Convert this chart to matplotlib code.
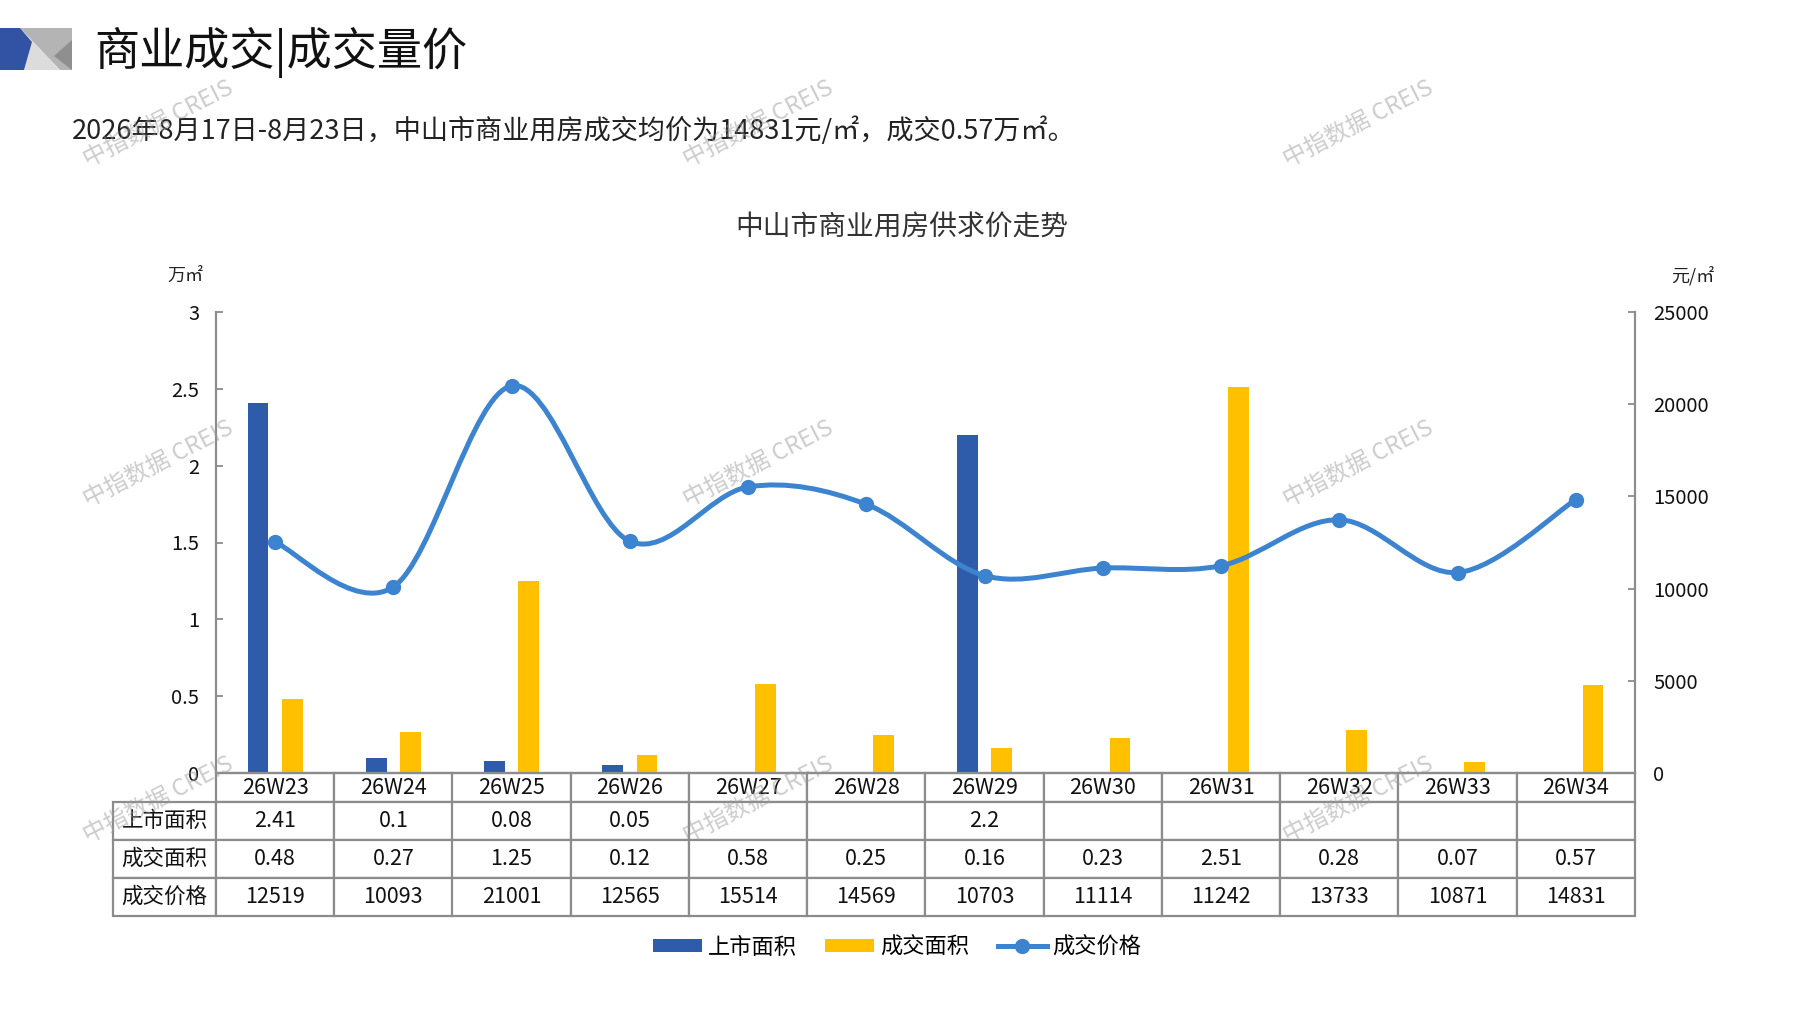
import numpy as np
import matplotlib
matplotlib.use('Agg')
import matplotlib.pyplot as plt
from matplotlib.path import Path
from matplotlib.patches import PathPatch, Polygon, Patch
from matplotlib.lines import Line2D

plt.rcParams['font.family'] = ['Noto Sans CJK SC', 'DejaVu Sans']

# ---------------- data ----------------
weeks = ['26W23', '26W24', '26W25', '26W26', '26W27', '26W28',
         '26W29', '26W30', '26W31', '26W32', '26W33', '26W34']
listed_area = [2.41, 0.1, 0.08, 0.05, None, None, 2.2, None, None, None, None, None]
sold_area = [0.48, 0.27, 1.25, 0.12, 0.58, 0.25, 0.16, 0.23, 2.51, 0.28, 0.07, 0.57]
sold_price = [12519, 10093, 21001, 12565, 15514, 14569, 10703, 11114, 11242, 13733, 10871, 14831]
series_names = ['上市面积', '成交面积', '成交价格']
y1_ticks = [0, 0.5, 1, 1.5, 2, 2.5, 3]
y1_labels = ['0', '0.5', '1', '1.5', '2', '2.5', '3']
y2_ticks = [0, 5000, 10000, 15000, 20000, 25000]
y2_labels = ['0', '5000', '10000', '15000', '20000', '25000']

title = '商业成交|成交量价'
subtitle = '2026年8月17日-8月23日，中山市商业用房成交均价为14831元/㎡，成交0.57万㎡。'
chart_title = '中山市商业用房供求价走势'
watermark = '中指数据 CREIS'

# ---------------- style ----------------
C_BLUE = '#2F5CAA'
C_YELLOW = '#FFC000'
C_LINE = '#3C84CF'
C_GRID = '#8C8C8C'

W, H = 1797, 1010
fig = plt.figure(figsize=(W / 100, H / 100), dpi=100)
fig.patch.set_facecolor('white')


def fx(px):
    return px / W


def fy(py):
    return 1 - py / H


# axes area in pixels
L, R, T, B = 216, 1635, 312, 773
AW, AH = R - L, B - T
ax = fig.add_axes([fx(L), fy(B), AW / W, AH / H])
ax2 = ax.twinx()

n = len(weeks)
x = np.arange(n)
bw = 0.175
off = 0.145

lx = [i for i, v in enumerate(listed_area) if v is not None]
lv = [v for v in listed_area if v is not None]
ax.bar(np.array(lx) - off, lv, width=bw, color=C_BLUE, zorder=2)
ax.bar(x + off, sold_area, width=bw, color=C_YELLOW, zorder=2)

ax.set_xlim(-0.5, n - 0.5)
ax.set_ylim(0, 3)
ax.set_yticks(y1_ticks)
ax.set_yticklabels(y1_labels)
ax2.set_ylim(0, 25000)
ax2.set_yticks(y2_ticks)
ax2.set_yticklabels(y2_labels)

ax.tick_params(axis='x', length=0, labelbottom=False)
ax.tick_params(axis='y', direction='in', length=5, width=1.3, color=C_GRID,
               labelsize=14.5, pad=12, labelcolor='#111111')
ax2.tick_params(axis='y', direction='in', length=5, width=1.3, color=C_GRID,
                labelsize=14.5, pad=13, labelcolor='#111111')
for a in (ax, ax2):
    a.spines['top'].set_visible(False)
    for s in ('left', 'right', 'bottom'):
        a.spines[s].set_color(C_GRID)
        a.spines[s].set_linewidth(1.5)
    a.patch.set_visible(False)

# smoothed price line (Catmull-Rom style bezier through the data points)
px_ = x.astype(float)
py_ = np.array(sold_price, dtype=float)
verts = [(px_[0], py_[0])]
codes = [Path.MOVETO]
for i in range(n - 1):
    i0, i1, i2, i3 = max(i - 1, 0), i, i + 1, min(i + 2, n - 1)
    p0 = np.array([px_[i0], py_[i0]])
    p1 = np.array([px_[i1], py_[i1]])
    p2 = np.array([px_[i2], py_[i2]])
    p3 = np.array([px_[i3], py_[i3]])
    c1 = p1 + (p2 - p0) / 6.0
    c2 = p2 - (p3 - p1) / 6.0
    verts += [tuple(c1), tuple(c2), tuple(p2)]
    codes += [Path.CURVE4] * 3
ax2.add_patch(PathPatch(Path(verts, codes), facecolor='none', edgecolor=C_LINE,
                        lw=3.6, capstyle='round', joinstyle='round', zorder=3))
ax2.plot(x, sold_price, 'o', color=C_LINE, ms=10, zorder=4)


# table
def fmt(v):
    return '' if v is None else str(v)


cell_text = [[fmt(v) for v in listed_area],
             [fmt(v) for v in sold_area],
             [fmt(v) for v in sold_price]]
head_h = 29 / AH
row_h = 38 / AH
grid_h = head_h + 3 * row_h
tbl = ax.table(cellText=cell_text, rowLabels=series_names, colLabels=weeks,
               cellLoc='center', rowLoc='center', colLoc='center',
               bbox=[0, -grid_h, 1, grid_h])
tbl.auto_set_font_size(False)
tbl.set_fontsize(15.5)
for (r, c), cell in tbl.get_celld().items():
    cell.set_edgecolor(C_GRID)
    cell.set_linewidth(1.6)
    cell.set_height(head_h if r == 0 else row_h)
    cell.set_width(102 / AW if c == -1 else 1 / n)
    cell.get_text().set_color('#111111')

# legend
handles = [Patch(facecolor=C_BLUE, edgecolor='none'),
           Patch(facecolor=C_YELLOW, edgecolor='none'),
           Line2D([], [], color=C_LINE, lw=3.6, marker='o', ms=10)]
fig.legend(handles, series_names, loc='center', bbox_to_anchor=(fx(897), fy(947)),
           ncol=3, frameon=False, fontsize=16, handlelength=2.2, handleheight=0.5,
           handletextpad=0.25, columnspacing=1.3)

# texts
fig.text(fx(94), fy(52), title, fontsize=32.5, va='center', ha='left', color='#111111')
fig.text(fx(72), fy(131), subtitle, fontsize=19.5, va='center', ha='left', color='#222222')
fig.text(fx(902), fy(228), chart_title, fontsize=20, va='center', ha='center', color='#333333')
fig.text(fx(185), fy(276), '万㎡', fontsize=13, va='center', ha='center', color='#222222')
fig.text(fx(1693), fy(276), '元/㎡', fontsize=13, va='center', ha='center', color='#222222')


# logo
def poly(pts, color):
    fig.add_artist(Polygon([(fx(a), fy(b)) for a, b in pts], closed=True,
                           facecolor=color, edgecolor='none', transform=fig.transFigure))


poly([(20, 28), (72, 28), (72, 70), (60, 70)], '#B4B4B4')
poly([(20, 28), (60, 70), (24, 70), (32, 42)], '#DCDCDC')
poly([(72, 40), (54, 56), (72, 70)], '#8F8F8F')
poly([(0, 28), (20, 28), (32, 42), (24, 70), (0, 70)], '#3252A4')

# watermarks
for wy in (124, 464, 800):
    for wx in (158, 758, 1358):
        fig.text(fx(wx), fy(wy), watermark, fontsize=17, rotation=27, ha='center', va='center',
                 rotation_mode='anchor', color='#9a9a9a', alpha=0.5, zorder=10)

fig.savefig('out.png', dpi=100, facecolor='white')
